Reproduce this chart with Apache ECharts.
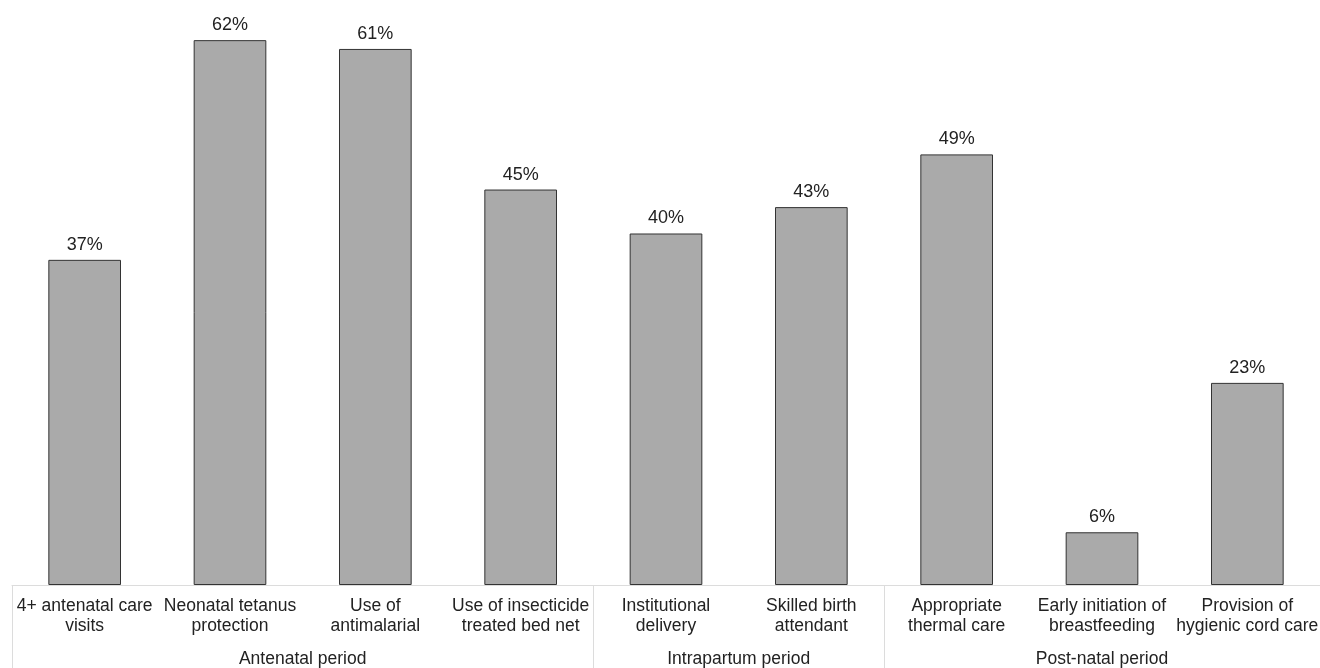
<!DOCTYPE html>
<html>
<head>
<meta charset="utf-8">
<script src="https://cdn.jsdelivr.net/npm/echarts@6/dist/echarts.min.js"></script>
<style>
html,body{margin:0;padding:0;background:#fff;}
#chart{width:1320px;height:668px;}
</style>
</head>
<body>
<div id="chart"></div>
<script>
var categories = [
  '4+ antenatal care\nvisits',
  'Neonatal tetanus\nprotection',
  'Use of\nantimalarial',
  'Use of insecticide\ntreated bed net',
  'Institutional\ndelivery',
  'Skilled birth\nattendant',
  'Appropriate\nthermal care',
  'Early initiation of\nbreastfeeding',
  'Provision of\nhygienic cord care'
];
var values = [37, 62, 61, 45, 40, 43, 49, 6, 23];
var groups = ['Antenatal period', 'Intrapartum period', 'Post-natal period'];
var groupSizes = [4, 2, 3];

var boundaries = [0];
var centers = [];
var acc = 0;
groupSizes.forEach(function (s) { centers.push(acc + s / 2); acc += s; boundaries.push(acc); });

var chart = echarts.init(document.getElementById('chart'));
var font = 'Liberation Sans, Arial, sans-serif';
chart.setOption({
  animation: false,
  grid: { left: 12, right: 0, top: 5, bottom: 83, containLabel: false, outerBoundsMode: 'none' },
  xAxis: [
    {
      type: 'category',
      data: categories,
      axisLine: { show: true, lineStyle: { color: '#dcdcdc', width: 1 } },
      axisTick: { show: false },
      axisLabel: { interval: 0, margin: 11, fontSize: 17.5, lineHeight: 20, color: '#222', fontFamily: font }
    },
    {
      type: 'value',
      min: 0,
      max: categories.length,
      position: 'bottom',
      splitLine: { show: false },
      axisLine: { show: false },
      axisTick: { show: true, customValues: boundaries, length: 83, lineStyle: { color: '#dcdcdc', width: 1 } },
      axisLabel: {
        customValues: centers,
        margin: 65,
        fontSize: 17.5,
        color: '#222',
        fontFamily: font,
        formatter: function (v) {
          var i = centers.indexOf(v);
          return i >= 0 ? groups[i] : '';
        }
      }
    }
  ],
  yAxis: {
    type: 'value',
    min: 0,
    max: 66,
    show: false,
    splitLine: { show: false }
  },
  series: [{
    type: 'bar',
    xAxisIndex: 0,
    data: values,
    barWidth: '50%',
    itemStyle: { color: '#aaaaaa', borderColor: '#333', borderWidth: 1 },
    label: {
      show: true,
      position: 'top',
      distance: 6,
      formatter: '{c}%',
      fontSize: 18,
      color: '#222',
      fontFamily: font
    }
  }]
});
</script>
</body>
</html>
